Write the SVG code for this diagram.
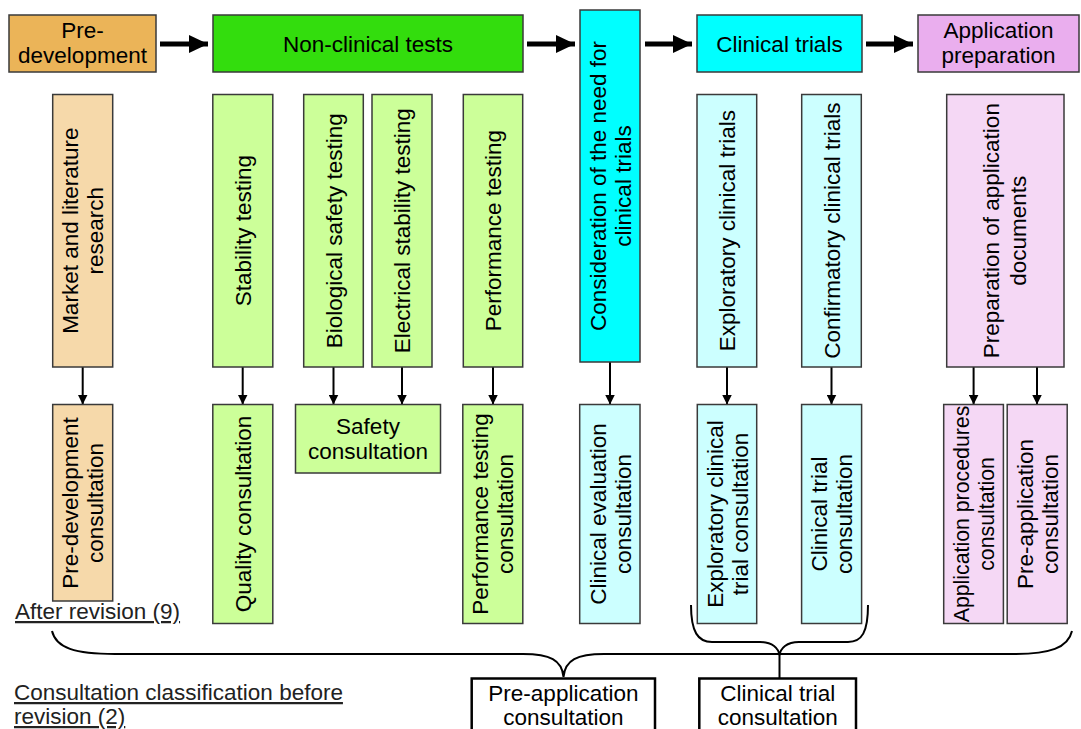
<svg xmlns="http://www.w3.org/2000/svg" width="1081" height="729" viewBox="0 0 1081 729">
<defs>
<style>
text{font-family:"Liberation Sans",Arial,sans-serif;font-size:22.5px;fill:#000;}
.c{text-anchor:middle;}
.box{stroke:#3a3a3a;stroke-width:1.5;}
.org{fill:#EBB458;}
.lorg{fill:#F6D9AA;}
.grn{fill:#33DD0D;}
.lgrn{fill:#CCFF99;}
.cy{fill:#00FFFF;}
.lcy{fill:#CCFFFF;}
.pk{fill:#EAAEEE;}
.lpk{fill:#F5D8F5;}
.big{stroke:#000;stroke-width:5;fill:none;}
.sm{stroke:#000;stroke-width:2;fill:none;}
.brace{stroke:#000;stroke-width:2;fill:none;}
.wb{fill:#fff;stroke:#000;stroke-width:2.5;}
.ul{text-decoration:underline;fill:#222;}
</style>
<marker id="bh" markerUnits="userSpaceOnUse" markerWidth="20" markerHeight="18" refX="19" refY="9" orient="auto">
<path d="M0,0 L19,9 L0,18 Z" fill="#000"/>
</marker>
<marker id="sh" markerUnits="userSpaceOnUse" markerWidth="10" markerHeight="10" refX="10" refY="5" orient="auto">
<path d="M0,0 L10,5 L0,10 Z" fill="#000"/>
</marker>
</defs>

<g id="connectors">
<line class="big" x1="160" y1="44" x2="208" y2="44" marker-end="url(#bh)"/>
<line class="big" x1="527" y1="44" x2="575" y2="44" marker-end="url(#bh)"/>
<line class="big" x1="645" y1="44" x2="692" y2="44" marker-end="url(#bh)"/>
<line class="big" x1="866" y1="44" x2="913" y2="44" marker-end="url(#bh)"/>
<line class="sm" x1="82.7" y1="367" x2="82.7" y2="404.5" marker-end="url(#sh)"/>
<line class="sm" x1="242.7" y1="367" x2="242.7" y2="404.5" marker-end="url(#sh)"/>
<line class="sm" x1="333.5" y1="367" x2="333.5" y2="404.5" marker-end="url(#sh)"/>
<line class="sm" x1="402" y1="367" x2="402" y2="404.5" marker-end="url(#sh)"/>
<line class="sm" x1="493" y1="367" x2="493" y2="404.5" marker-end="url(#sh)"/>
<line class="sm" x1="610" y1="362" x2="610" y2="404.5" marker-end="url(#sh)"/>
<line class="sm" x1="727" y1="367" x2="727" y2="404.5" marker-end="url(#sh)"/>
<line class="sm" x1="831.5" y1="367" x2="831.5" y2="404.5" marker-end="url(#sh)"/>
<line class="sm" x1="973.6" y1="367" x2="973.6" y2="404.5" marker-end="url(#sh)"/>
<line class="sm" x1="1037" y1="367" x2="1037" y2="404.5" marker-end="url(#sh)"/>
<path class="brace" d="M52,631 C56,648 75,654 115,654 L523,654 C550,654 562,660 563.5,677 C565,660 577,654 604,654 L1013,654 C1050,654 1068,648 1072,631"/>
<path class="brace" d="M691,605 C691,632 698,642 712,642 L760,642 C772,642 779,648 779.5,656 C780,648 787,642 799,642 L848,642 C862,642 868,632 868,605"/>
<line class="brace" x1="779.5" y1="656" x2="779.5" y2="679"/>
</g>

<g id="pre-development">
<rect class="box org" x="9" y="15" width="147" height="57"/>
<text class="c" x="82.5" y="37.5">Pre-</text>
<text class="c" x="82.5" y="62.5">development</text>
</g>
<g id="non-clinical-tests">
<rect class="box grn" x="213" y="15" width="310" height="57"/>
<text class="c" x="368" y="51.5">Non-clinical tests</text>
</g>
<g id="consideration">
<rect class="box cy" x="580" y="10" width="60" height="352"/>
<text class="c" transform="translate(610,186) rotate(-90)"><tspan x="0" y="-4.5">Consideration of the need for</tspan><tspan x="0" y="20.5">clinical trials</tspan></text>
</g>
<g id="clinical-trials">
<rect class="box cy" x="697" y="15" width="165" height="57"/>
<text class="c" x="779.5" y="51.5">Clinical trials</text>
</g>
<g id="application-preparation">
<rect class="box pk" x="918" y="15" width="161" height="57"/>
<text class="c" x="998.5" y="38">Application</text>
<text class="c" x="998.5" y="62.5">preparation</text>
</g>

<g id="market-research">
<rect class="box lorg" x="52.7" y="94.5" width="60" height="272.5"/>
<text class="c" transform="translate(82.7,230.7) rotate(-90)"><tspan x="0" y="-4.5">Market and literature</tspan><tspan x="0" y="20.5">research</tspan></text>
</g>
<g id="stability-testing">
<rect class="box lgrn" x="212.8" y="94.5" width="60" height="272.5"/>
<text class="c" transform="translate(242.8,230.7) rotate(-90)" y="8">Stability testing</text>
</g>
<g id="biological-safety-testing">
<rect class="box lgrn" x="303.7" y="94.5" width="59.6" height="272.5"/>
<text class="c" transform="translate(333.5,230.7) rotate(-90)" y="8">Biological safety testing</text>
</g>
<g id="electrical-stability-testing">
<rect class="box lgrn" x="372" y="94.5" width="60" height="272.5"/>
<text class="c" transform="translate(402,230.7) rotate(-90)" y="8">Electrical stability testing</text>
</g>
<g id="performance-testing">
<rect class="box lgrn" x="463.3" y="94.5" width="59.4" height="272.5"/>
<text class="c" transform="translate(493,230.7) rotate(-90)" y="8">Performance testing</text>
</g>
<g id="exploratory-clinical-trials">
<rect class="box lcy" x="697" y="94.5" width="59.7" height="272.5"/>
<text class="c" transform="translate(727,230.7) rotate(-90)" y="8">Exploratory clinical trials</text>
</g>
<g id="confirmatory-clinical-trials">
<rect class="box lcy" x="801.7" y="94.5" width="59.6" height="272.5"/>
<text class="c" transform="translate(831.5,230.7) rotate(-90)" y="8">Confirmatory clinical trials</text>
</g>
<g id="preparation-of-application-documents">
<rect class="box lpk" x="946.7" y="94.5" width="117.3" height="272.5"/>
<text class="c" transform="translate(1005.3,230.7) rotate(-90)"><tspan x="0" y="-6">Preparation of application</tspan><tspan x="0" y="21">documents</tspan></text>
</g>

<g id="pre-development-consultation">
<rect class="box lorg" x="52.7" y="404.5" width="60" height="196.5"/>
<text class="c" transform="translate(82.7,503) rotate(-90)"><tspan x="0" y="-4.5">Pre-development</tspan><tspan x="0" y="20.5">consultation</tspan></text>
</g>
<g id="quality-consultation">
<rect class="box lgrn" x="212.8" y="404.5" width="60" height="219"/>
<text class="c" transform="translate(242.8,514) rotate(-90)" y="8">Quality consultation</text>
</g>
<g id="safety-consultation">
<rect class="box lgrn" x="295.5" y="404.5" width="145" height="68.5"/>
<text class="c" x="368" y="434">Safety</text>
<text class="c" x="368" y="459">consultation</text>
</g>
<g id="performance-testing-consultation">
<rect class="box lgrn" x="462.8" y="404.5" width="60" height="219"/>
<text class="c" transform="translate(492.8,514) rotate(-90)"><tspan x="0" y="-4.5">Performance testing</tspan><tspan x="0" y="20.5">consultation</tspan></text>
</g>
<g id="clinical-evaluation-consultation">
<rect class="box lcy" x="579.7" y="404.5" width="60.3" height="219"/>
<text class="c" transform="translate(610,514) rotate(-90)"><tspan x="0" y="-4.5">Clinical evaluation</tspan><tspan x="0" y="20.5">consultation</tspan></text>
</g>
<g id="exploratory-clinical-trial-consultation">
<rect class="box lcy" x="697.3" y="404.5" width="59.4" height="219"/>
<text class="c" transform="translate(727,514) rotate(-90)"><tspan x="0" y="-4.5">Exploratory clinical</tspan><tspan x="0" y="20.5">trial consultation</tspan></text>
</g>
<g id="clinical-trial-consultation-box">
<rect class="box lcy" x="801.6" y="404.5" width="60" height="219"/>
<text class="c" transform="translate(831.6,514) rotate(-90)"><tspan x="0" y="-4.5">Clinical trial</tspan><tspan x="0" y="20.5">consultation</tspan></text>
</g>
<g id="application-procedures-consultation">
<rect class="box lpk" x="943.7" y="404.5" width="59.7" height="219"/>
<text class="c" transform="translate(973.5,514) rotate(-90)" style="font-size:21.3px"><tspan x="0" y="-5">Application procedures</tspan><tspan x="0" y="20">consultation</tspan></text>
</g>
<g id="pre-application-consultation-box">
<rect class="box lpk" x="1007.2" y="404.5" width="60" height="219"/>
<text class="c" transform="translate(1037.2,514) rotate(-90)"><tspan x="0" y="-4.5">Pre-application</tspan><tspan x="0" y="20.5">consultation</tspan></text>
</g>

<g id="label-after">
<text class="ul" x="15" y="619">After revision (9)</text>
</g>
<g id="label-before">
<text class="ul" x="14" y="700">Consultation classification before</text>
<text class="ul" x="14" y="724">revision (2)</text>
</g>
<g id="old-pre-application">
<rect class="wb" x="471.7" y="678.5" width="183.3" height="70"/>
<text class="c" x="563.4" y="701">Pre-application</text>
<text class="c" x="563.4" y="725">consultation</text>
</g>
<g id="old-clinical-trial">
<rect class="wb" x="699.3" y="678.5" width="156.7" height="70"/>
<text class="c" x="777.7" y="701">Clinical trial</text>
<text class="c" x="777.7" y="725">consultation</text>
</g>
</svg>
